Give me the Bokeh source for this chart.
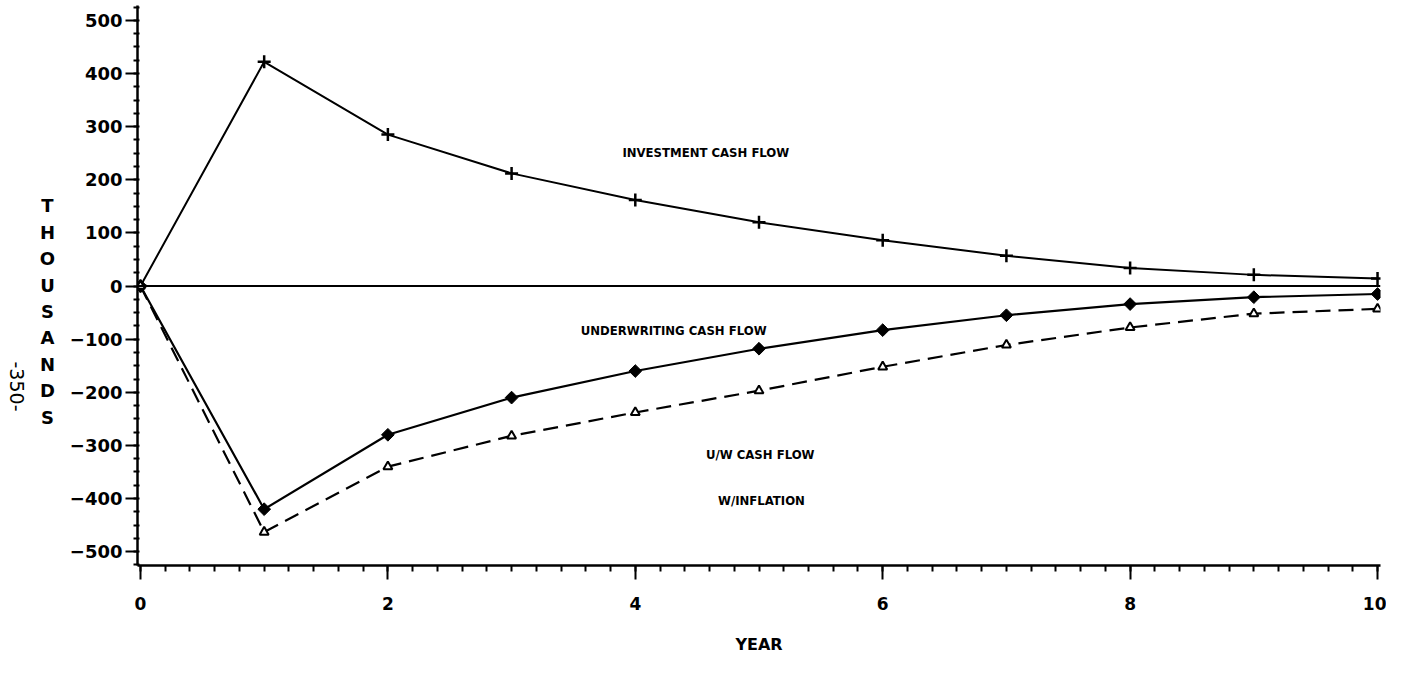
import numpy as np
from bokeh.plotting import figure
from bokeh.layouts import row
from bokeh.models import Label, Span, Range1d, FixedTicker
from bokeh.core.properties import value
from bokeh.embed import file_html
from bokeh.resources import INLINE

years = [0, 1, 2, 3, 4, 5, 6, 7, 8, 9, 10]
investment = [0, 422, 285, 212, 162, 120, 86, 57, 34, 21, 14]
underwriting = [0, -420, -280, -210, -160, -118, -83, -55, -34, -21, -15]
uw_inflation = [0, -463, -340, -282, -238, -197, -152, -111, -78, -52, -43]
x_ticks = [0, 2, 4, 6, 8, 10]
y_ticks = [-500, -400, -300, -200, -100, 0, 100, 200, 300, 400, 500]
y_title = "T\nH\nO\nU\nS\nA\nN\nD\nS"
page_no = "-350-"

FONT = "DejaVu Sans"
H = 658
LEFT_W = 60
FRAME_TOP = 5
FRAME_BOTTOM = 565

# narrow left strip holding the vertical y title and the page number
# (its frame is aligned with the main frame, so map it to page pixels)
side = figure(width=LEFT_W, height=H, x_range=Range1d(0, LEFT_W),
              y_range=Range1d(FRAME_BOTTOM, FRAME_TOP),
              output_backend="svg", toolbar_location=None,
              min_border_left=0, min_border_right=0, min_border_top=FRAME_TOP,
              min_border_bottom=H - FRAME_BOTTOM)
side.axis.visible = False
side.grid.visible = False
side.outline_line_color = None
side.text(x=[47], y=[311], text=[y_title], text_font=value(FONT), text_font_style="bold",
          text_font_size="18px", text_align="center", text_baseline="middle",
          text_line_height=1.26, text_color="black")
side.text(x=[16], y=[386], text=[page_no], text_font=value(FONT), text_font_size="19px",
          angle=-np.pi / 2, text_align="center", text_baseline="middle", text_color="black")

p = figure(width=1386 - LEFT_W, height=H, x_range=Range1d(-0.024, 10.024),
           y_range=Range1d(-526, 528), output_backend="svg",
           toolbar_location=None, min_border_left=137 - LEFT_W, min_border_right=6,
           min_border_top=FRAME_TOP, min_border_bottom=H - FRAME_BOTTOM)
p.outline_line_color = None
p.grid.visible = False

for ax in (p.xaxis[0], p.yaxis[0]):
    ax.axis_line_width = 2.5
    ax.axis_line_color = "black"
    ax.major_tick_line_width = 2
    ax.minor_tick_line_width = 2
    ax.major_tick_line_color = "black"
    ax.minor_tick_line_color = "black"
    ax.major_label_text_font = FONT
    ax.major_label_text_font_style = "bold"
    ax.major_label_text_color = "black"
    ax.major_tick_in = 0

p.yaxis.ticker = FixedTicker(ticks=y_ticks, minor_ticks=list(range(-525, 526, 25)))
p.yaxis.major_tick_out = 12
p.yaxis.minor_tick_out = 4
p.yaxis.minor_tick_in = 2
p.yaxis.major_label_standoff = 3
p.yaxis.major_label_text_font_size = "18px"

p.xaxis.ticker = FixedTicker(ticks=x_ticks, minor_ticks=[i / 5 for i in range(0, 51)])
p.xaxis.major_tick_out = 14
p.xaxis.minor_tick_out = 6
p.xaxis.minor_tick_in = 0
p.xaxis.major_label_standoff = 17
p.xaxis.major_label_text_font_size = "17px"
p.xaxis.axis_label = "YEAR"
p.xaxis.axis_label_text_font = FONT
p.xaxis.axis_label_text_font_style = "bold"
p.xaxis.axis_label_text_font_size = "16px"
p.xaxis.axis_label_text_color = "black"
p.xaxis.axis_label_standoff = 22

# zero line
p.add_layout(Span(location=0, dimension="width", line_color="black", line_width=2))

# series
p.line(years, investment, line_color="black", line_width=2)
p.scatter(years, investment, marker="cross", size=13, line_color="black", line_width=2.5)

p.line(years, underwriting, line_color="black", line_width=2.2)
p.scatter(years, underwriting, marker="square", angle=np.pi / 4, size=9,
          fill_color="black", line_color="black")

p.line(years, uw_inflation, line_color="black", line_width=2.2, line_dash="15 8")
p.scatter(years, uw_inflation, marker="triangle", size=9, fill_color="white",
          line_color="black", line_width=2)

# annotations
ann_font = "DejaVu Sans Condensed"
for txt, x, y in [("INVESTMENT CASH FLOW", 4.57, 252),
                  ("UNDERWRITING CASH FLOW", 4.31, -83),
                  ("U/W CASH FLOW", 5.01, -318),
                  ("W/INFLATION", 5.02, -403)]:
    p.add_layout(Label(x=x, y=y, text=txt, text_font=ann_font, text_font_style="bold",
                       text_font_size="13px", text_align="center", text_baseline="middle",
                       text_color="black"))

layout = row(side, p, spacing=0)
open("out.html", "w").write(file_html(layout, INLINE))
